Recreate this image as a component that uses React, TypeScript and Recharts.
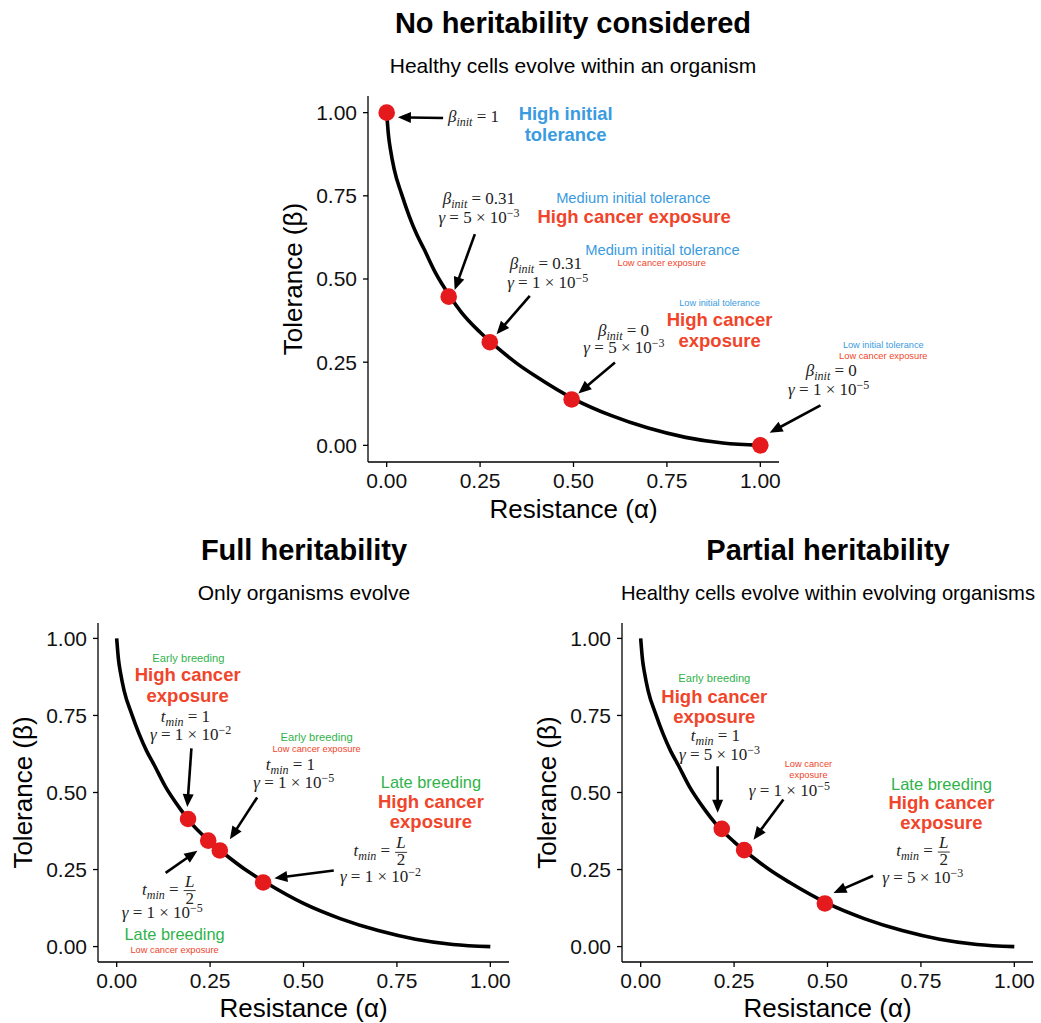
import React from "react";
import {
  ComposedChart,
  Line,
  ReferenceDot,
  ReferenceLine,
  Scatter,
  XAxis,
  YAxis,
} from "recharts";

// trade-off curve
const curveAlpha = [0, 0.005, 0.01, 0.02, 0.04, 0.06, 0.08, 0.1, 0.13, 0.17, 0.2, 0.25, 0.3, 0.35, 0.4, 0.5, 0.6, 0.7, 0.8, 0.9, 1.0];
const curveBeta = [1, 0.93, 0.89, 0.83, 0.755, 0.69, 0.635, 0.59, 0.52, 0.447, 0.4, 0.34, 0.29, 0.245, 0.207, 0.14, 0.09, 0.052, 0.024, 0.007, 0];

// evolved optima (red dots)
const noHerAlpha = [0, 0.166, 0.276, 0.495, 1.0];
const noHerBeta = [1.0, 0.447, 0.31, 0.138, 0];
const fullAlpha = [0.191, 0.245, 0.276, 0.392];
const fullBeta = [0.414, 0.344, 0.312, 0.208];
const partialAlpha = [0.217, 0.277, 0.493];
const partialBeta = [0.382, 0.313, 0.14];

const axisTicks = [0, 0.25, 0.5, 0.75, 1];
const DOMAIN: [number, number] = [-0.05, 1.05];

const BLUE = "#3a9be0";
const RED = "#f0452b";
const GREEN = "#2fb34a";
const DOT = "#e41a1c";
const SANS = "Liberation Sans, Arial, sans-serif";
const SERIF = "Liberation Serif, Times New Roman, serif";

const curve = curveAlpha.map((a, i) => ({ a, b: curveBeta[i] }));
const toPoints = (xs: number[], ys: number[]) => xs.map((a, i) => ({ a, b: ys[i] }));

type Arrow = [number, number, number, number]; // tail a, tail b, tip a, tip b

type Ann = {
  a: number;
  b: number;
  text?: string;
  size?: number;
  color?: string;
  bold?: boolean;
  sym?: string;
  sub?: string;
  rhs?: string;
  sup?: string;
  frac?: boolean;
  anchor?: "start" | "middle";
};

const noHerArrows: Arrow[] = [
  [0.151, 0.984, 0.03, 0.986],
  [0.236, 0.635, 0.182, 0.467],
  [0.383, 0.449, 0.294, 0.334],
  [0.611, 0.249, 0.513, 0.156],
  [1.161, 0.12, 1.025, 0.038],
];

const noHerLabels: Ann[] = [
  { a: 0.479, b: 0.998, text: "High initial", size: 18.4, color: BLUE, bold: true },
  { a: 0.479, b: 0.936, text: "tolerance", size: 18.4, color: BLUE, bold: true },
  { a: 0.66, b: 0.745, text: "Medium initial tolerance", size: 14.7, color: BLUE },
  { a: 0.662, b: 0.687, text: "High cancer exposure", size: 18.5, color: RED, bold: true },
  { a: 0.738, b: 0.589, text: "Medium initial tolerance", size: 14.7, color: BLUE },
  { a: 0.736, b: 0.55, text: "Low cancer exposure", size: 9.3, color: RED },
  { a: 0.891, b: 0.429, text: "Low initial tolerance", size: 9.2, color: BLUE },
  { a: 0.891, b: 0.379, text: "High cancer", size: 18.5, color: RED, bold: true },
  { a: 0.891, b: 0.317, text: "exposure", size: 18.5, color: RED, bold: true },
  { a: 1.329, b: 0.302, text: "Low initial tolerance", size: 9.2, color: BLUE },
  { a: 1.329, b: 0.27, text: "Low cancer exposure", size: 9.3, color: RED },
  { a: 0.164, b: 0.988, sym: "β", sub: "init", rhs: "1", anchor: "start" },
  { a: 0.247, b: 0.739, sym: "β", sub: "init", rhs: "0.31" },
  { a: 0.247, b: 0.682, sym: "γ", rhs: "5 × 10", sup: "−3" },
  { a: 0.426, b: 0.544, sym: "β", sub: "init", rhs: "0.31" },
  { a: 0.431, b: 0.489, sym: "γ", rhs: "1 × 10", sup: "−5" },
  { a: 0.634, b: 0.345, sym: "β", sub: "init", rhs: "0" },
  { a: 0.635, b: 0.294, sym: "γ", rhs: "5 × 10", sup: "−3" },
  { a: 1.19, b: 0.222, sym: "β", sub: "init", rhs: "0" },
  { a: 1.183, b: 0.165, sym: "γ", rhs: "1 × 10", sup: "−5" },
];

const fullArrows: Arrow[] = [
  [0.2, 0.643, 0.189, 0.453],
  [0.376, 0.484, 0.303, 0.348],
  [0.131, 0.239, 0.216, 0.311],
  [0.581, 0.247, 0.422, 0.222],
];

const fullLabels: Ann[] = [
  { a: 0.192, b: 0.936, text: "Early breeding", size: 11.2, color: GREEN },
  { a: 0.19, b: 0.883, text: "High cancer", size: 18.5, color: RED, bold: true },
  { a: 0.19, b: 0.816, text: "exposure", size: 18.5, color: RED, bold: true },
  { a: 0.535, b: 0.679, text: "Early breeding", size: 11.2, color: GREEN },
  { a: 0.535, b: 0.641, text: "Low cancer exposure", size: 9.3, color: RED },
  { a: 0.155, b: 0.039, text: "Late breeding", size: 16.4, color: GREEN },
  { a: 0.155, b: -0.01, text: "Low cancer exposure", size: 9.3, color: RED },
  { a: 0.841, b: 0.535, text: "Late breeding", size: 16.4, color: GREEN },
  { a: 0.841, b: 0.47, text: "High cancer", size: 18.5, color: RED, bold: true },
  { a: 0.841, b: 0.406, text: "exposure", size: 18.5, color: RED, bold: true },
  { a: 0.184, b: 0.745, sym: "t", sub: "min", rhs: "1" },
  { a: 0.198, b: 0.686, sym: "γ", rhs: "1 × 10", sup: "−2" },
  { a: 0.465, b: 0.589, sym: "t", sub: "min", rhs: "1" },
  { a: 0.474, b: 0.53, sym: "γ", rhs: "1 × 10", sup: "−5" },
  { a: 0.131, b: 0.185, sym: "t", sub: "min", frac: true },
  { a: 0.122, b: 0.11, sym: "γ", rhs: "1 × 10", sup: "−5" },
  { a: 0.697, b: 0.309, sym: "t", sub: "min", frac: true },
  { a: 0.706, b: 0.226, sym: "γ", rhs: "1 × 10", sup: "−2" },
];

const partialArrows: Arrow[] = [
  [0.206, 0.585, 0.206, 0.434],
  [0.382, 0.477, 0.302, 0.347],
  [0.622, 0.23, 0.516, 0.174],
];

const partialLabels: Ann[] = [
  { a: 0.197, b: 0.871, text: "Early breeding", size: 11.2, color: GREEN },
  { a: 0.197, b: 0.813, text: "High cancer", size: 18.5, color: RED, bold: true },
  { a: 0.197, b: 0.746, text: "exposure", size: 18.5, color: RED, bold: true },
  { a: 0.449, b: 0.592, text: "Low cancer", size: 9.3, color: RED },
  { a: 0.449, b: 0.559, text: "exposure", size: 9.3, color: RED },
  { a: 0.805, b: 0.526, text: "Late breeding", size: 16.5, color: GREEN },
  { a: 0.805, b: 0.469, text: "High cancer", size: 18.5, color: RED, bold: true },
  { a: 0.805, b: 0.402, text: "exposure", size: 18.5, color: RED, bold: true },
  { a: 0.2, b: 0.683, sym: "t", sub: "min", rhs: "1" },
  { a: 0.211, b: 0.623, sym: "γ", rhs: "5 × 10", sup: "−3" },
  { a: 0.398, b: 0.505, sym: "γ", rhs: "1 × 10", sup: "−5" },
  { a: 0.747, b: 0.31, sym: "t", sub: "min", frac: true },
  { a: 0.755, b: 0.224, sym: "γ", rhs: "5 × 10", sup: "−3" },
];

function ArrowShape(props: any) {
  const { x1, y1, x2, y2 } = props;
  const dx = x2 - x1;
  const dy = y2 - y1;
  const len = Math.hypot(dx, dy) || 1;
  const ux = dx / len;
  const uy = dy / len;
  const head = 13;
  const half = 5.5;
  const bx = x2 - ux * head;
  const by = y2 - uy * head;
  return (
    <g>
      <line x1={x1} y1={y1} x2={bx + ux * 2} y2={by + uy * 2} stroke="#000" strokeWidth={2.6} />
      <polygon
        points={`${x2},${y2} ${bx - uy * half},${by + ux * half} ${bx + uy * half},${by - ux * half}`}
        fill="#000"
      />
    </g>
  );
}

function renderAnn(ann: Ann, cx: number, cy: number) {
  if (ann.text) {
    return (
      <text
        x={cx}
        y={cy}
        dy="0.36em"
        textAnchor={ann.anchor ?? "middle"}
        fontFamily={SANS}
        fontSize={ann.size}
        fontWeight={ann.bold ? "bold" : "normal"}
        fill={ann.color}
      >
        {ann.text}
      </text>
    );
  }
  const fs = 17;
  if (ann.frac) {
    return (
      <g fontFamily={SERIF} fill="#222">
        <text x={cx + 13} y={cy + 5} textAnchor="end" fontSize={fs}>
          <tspan fontStyle="italic">{ann.sym}</tspan>
          <tspan fontStyle="italic" fontSize={12} dy={4}>{ann.sub}</tspan>
          <tspan dy={-4}>{" ="}</tspan>
        </text>
        <text x={cx + 24} y={cy - 3} textAnchor="middle" fontSize={fs} fontStyle="italic">L</text>
        <line x1={cx + 18} x2={cx + 30} y1={cy + 1} y2={cy + 1} stroke="#222" strokeWidth={0.9} />
        <text x={cx + 24} y={cy + 14} textAnchor="middle" fontSize={fs}>2</text>
      </g>
    );
  }
  return (
    <text
      x={cx}
      y={cy + 5}
      textAnchor={ann.anchor ?? "middle"}
      fontFamily={SERIF}
      fontSize={fs}
      fill="#222"
    >
      <tspan fontStyle="italic">{ann.sym}</tspan>
      {ann.sub && (
        <tspan fontStyle="italic" fontSize={12} dy={4}>
          {ann.sub}
        </tspan>
      )}
      <tspan dy={ann.sub ? -4 : 0}>{` = ${ann.rhs}`}</tspan>
      {ann.sup && (
        <tspan fontSize={12} dy={-6}>
          {ann.sup}
        </tspan>
      )}
    </text>
  );
}

const tickStyle = { fill: "#111", fontSize: 21, fontFamily: SANS };
const lineStyle = { stroke: "#000", strokeWidth: 1.3 };

interface PanelProps {
  left: number;
  top: number;
  width: number;
  height: number;
  margin: { top: number; right: number; bottom: number; left: number };
  points: { a: number; b: number }[];
  arrows: Arrow[];
  labels: Ann[];
}

function Panel({ left, top, width, height, margin, points, arrows, labels }: PanelProps) {
  return (
    <div style={{ position: "absolute", left, top }}>
      <ComposedChart width={width} height={height} margin={margin}>
        <XAxis
          type="number"
          dataKey="a"
          domain={DOMAIN}
          ticks={axisTicks}
          allowDataOverflow
          tickFormatter={(v: number) => v.toFixed(2)}
          tickSize={5}
          tickMargin={6}
          height={40}
          axisLine={lineStyle}
          tickLine={lineStyle}
          tick={tickStyle}
        />
        <YAxis
          type="number"
          dataKey="b"
          domain={DOMAIN}
          ticks={axisTicks}
          allowDataOverflow
          tickFormatter={(v: number) => v.toFixed(2)}
          tickSize={5}
          tickMargin={6}
          width={60}
          axisLine={lineStyle}
          tickLine={lineStyle}
          tick={tickStyle}
        />
        <Line
          data={curve}
          dataKey="b"
          type="monotone"
          stroke="#000"
          strokeWidth={3.6}
          dot={false}
          activeDot={false}
          isAnimationActive={false}
        />
        {arrows.map((ar, i) => (
          <ReferenceLine
            key={`ar${i}`}
            segment={[
              { x: ar[0], y: ar[1] },
              { x: ar[2], y: ar[3] },
            ]}
            ifOverflow="visible"
            shape={ArrowShape}
          />
        ))}
        <Scatter
          data={points}
          dataKey="b"
          isAnimationActive={false}
          shape={(p: any) => <circle cx={p.cx} cy={p.cy} r={8.3} fill={DOT} />}
        />
        {labels.map((ann, i) => (
          <ReferenceDot
            key={`lb${i}`}
            x={ann.a}
            y={ann.b}
            r={1}
            ifOverflow="visible"
            shape={(p: any) => renderAnn(ann, p.cx, p.cy)}
          />
        ))}
      </ComposedChart>
    </div>
  );
}

export default function App() {
  return (
    <div style={{ position: "absolute", left: 0, top: 0, width: 1041, height: 1023, background: "#fff", overflow: "hidden" }}>
      <Panel
        left={0}
        top={0}
        width={1041}
        height={540}
        margin={{ top: 96, right: 262, bottom: 38, left: 308 }}
        points={toPoints(noHerAlpha, noHerBeta)}
        arrows={noHerArrows}
        labels={noHerLabels}
      />
      <Panel
        left={0}
        top={540}
        width={520}
        height={483}
        margin={{ top: 83, right: 11, bottom: 21, left: 38 }}
        points={toPoints(fullAlpha, fullBeta)}
        arrows={fullArrows}
        labels={fullLabels}
      />
      <Panel
        left={520}
        top={540}
        width={521}
        height={483}
        margin={{ top: 83, right: 8, bottom: 21, left: 42 }}
        points={toPoints(partialAlpha, partialBeta)}
        arrows={partialArrows}
        labels={partialLabels}
      />
      <svg
        width={1041}
        height={1023}
        style={{ position: "absolute", left: 0, top: 0, pointerEvents: "none" }}
        fontFamily={SANS}
        fill="#000"
      >
        <text x={573} y={33} textAnchor="middle" fontSize={29} fontWeight="bold">No heritability considered</text>
        <text x={573} y={73} textAnchor="middle" fontSize={21}>Healthy cells evolve within an organism</text>
        <text x={304} y={560} textAnchor="middle" fontSize={29} fontWeight="bold">Full heritability</text>
        <text x={304} y={600} textAnchor="middle" fontSize={21}>Only organisms evolve</text>
        <text x={828} y={560} textAnchor="middle" fontSize={29} fontWeight="bold">Partial heritability</text>
        <text x={828} y={600} textAnchor="middle" fontSize={20.2}>Healthy cells evolve within evolving organisms</text>

        <text x={573.5} y={518} textAnchor="middle" fontSize={26}>Resistance (α)</text>
        <text x={303.5} y={1017} textAnchor="middle" fontSize={26}>Resistance (α)</text>
        <text x={827.5} y={1017} textAnchor="middle" fontSize={26}>Resistance (α)</text>

        <text x={302} y={279} textAnchor="middle" fontSize={26} transform="rotate(-90 302 279)">Tolerance (β)</text>
        <text x={32} y={792.5} textAnchor="middle" fontSize={26} transform="rotate(-90 32 792.5)">Tolerance (β)</text>
        <text x={556} y={792.5} textAnchor="middle" fontSize={26} transform="rotate(-90 556 792.5)">Tolerance (β)</text>
      </svg>
    </div>
  );
}
